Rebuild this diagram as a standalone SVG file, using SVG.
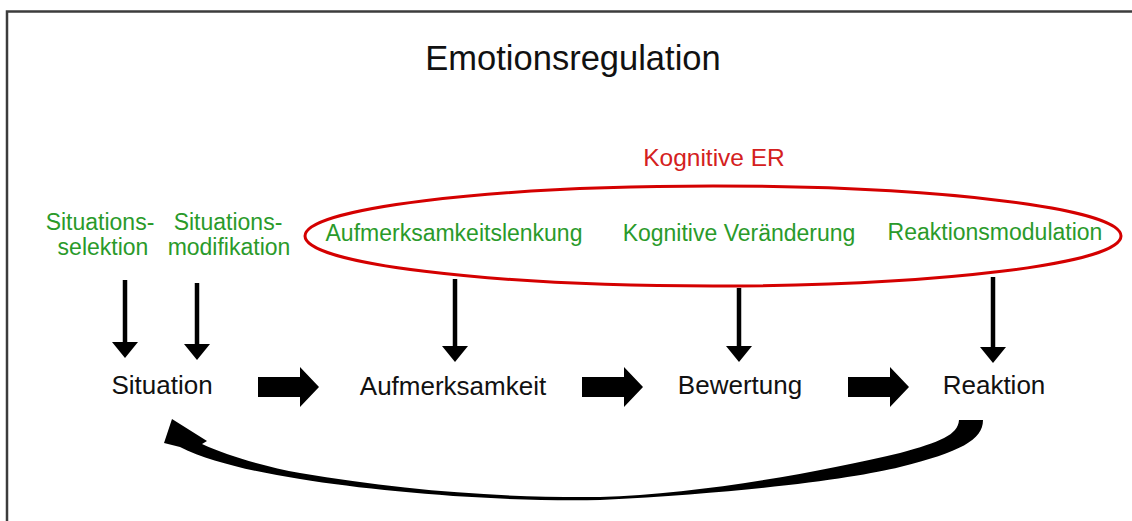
<svg xmlns="http://www.w3.org/2000/svg" width="1132" height="521" viewBox="0 0 1132 521">
  <style>
    .frame { fill: none; stroke: #3c3c3c; stroke-width: 2.5; }
    .title { font-family: "Liberation Sans", Arial, sans-serif; font-size: 34.5px; fill: #111; text-anchor: middle; }
    .node { font-family: "Liberation Sans", Arial, sans-serif; font-size: 26px; fill: #111; text-anchor: middle; }
    .strat { font-family: "Liberation Sans", Arial, sans-serif; font-size: 23px; fill: #2a9a2a; text-anchor: middle; }
    .group { font-family: "Liberation Sans", Arial, sans-serif; font-size: 24.5px; fill: #d42020; text-anchor: middle; }
    .oval { fill: none; stroke: #d40000; stroke-width: 3; }
    .thin { stroke: #000; stroke-width: 4.5; fill: none; }
    .solid { fill: #000; stroke: none; }
  </style>
  <defs>
    <!-- small down arrowhead, tip at origin -->
    <polygon id="head" points="-13,-16 13,-16 0,0" class="solid"/>
    <!-- thick right block arrow, left/middle at origin -->
    <polygon id="block" points="0,-10 42,-10 42,-20 61,0 42,20 42,10 0,10" class="solid"/>
  </defs>

  <rect width="1132" height="521" fill="#fff"/>
  <!-- outer frame (top and left edges only) -->
  <path class="frame" d="M7,521 L7,11.5 L1132,11.5"/>

  <text class="title" x="573" y="70">Emotionsregulation</text>

  <g id="kognitive-er">
    <ellipse class="oval" cx="713" cy="236" rx="408" ry="50"/>
    <text class="group" x="714" y="166">Kognitive ER</text>
  </g>

  <g id="situationsselektion">
    <text class="strat" x="100" y="230">Situations-</text>
    <text class="strat" x="103" y="255">selektion</text>
  </g>
  <g id="situationsmodifikation">
    <text class="strat" x="228" y="230">Situations-</text>
    <text class="strat" x="229" y="255">modifikation</text>
  </g>
  <g id="aufmerksamkeitslenkung">
    <text class="strat" x="454" y="241">Aufmerksamkeitslenkung</text>
  </g>
  <g id="kognitive-veraenderung">
    <text class="strat" x="739" y="241">Kognitive Veränderung</text>
  </g>
  <g id="reaktionsmodulation">
    <text class="strat" x="995" y="240">Reaktionsmodulation</text>
  </g>

  <g id="situation"><text class="node" x="162" y="394">Situation</text></g>
  <g id="aufmerksamkeit"><text class="node" x="453" y="395">Aufmerksamkeit</text></g>
  <g id="bewertung"><text class="node" x="740" y="394">Bewertung</text></g>
  <g id="reaktion"><text class="node" x="994" y="394">Reaktion</text></g>

  <g id="connectors">
    <!-- strategy arrows pointing down onto the stages -->
    <line class="thin" x1="125" y1="280" x2="125" y2="345"/>
    <use href="#head" x="125" y="358"/>
    <line class="thin" x1="197" y1="283" x2="197" y2="347"/>
    <use href="#head" x="197" y="360"/>
    <line class="thin" x1="455" y1="279" x2="455" y2="349"/>
    <use href="#head" x="455" y="362"/>
    <line class="thin" x1="739" y1="288" x2="739" y2="349"/>
    <use href="#head" x="739" y="362"/>
    <line class="thin" x1="993" y1="277" x2="993" y2="350"/>
    <use href="#head" x="993" y="363"/>

    <!-- process flow between stages -->
    <use href="#block" x="258" y="387"/>
    <use href="#block" x="582" y="387"/>
    <use href="#block" x="848" y="387"/>

    <!-- feedback loop from Reaktion back to Situation -->
    <path class="solid" d="M959,420 L983,420 C983,440 960,452 900,467 C860,477 760,492 600,500 C500,502 380,492 300,479 C255,472 210,462 180,447 L164,443 L172,419 L207,441 L202,444 C230,457 268,467 300,473 C400,490 500,498 600,497 C700,494 820,472 900,453 C940,442 958,435 959,420 Z"/>
  </g>
</svg>
